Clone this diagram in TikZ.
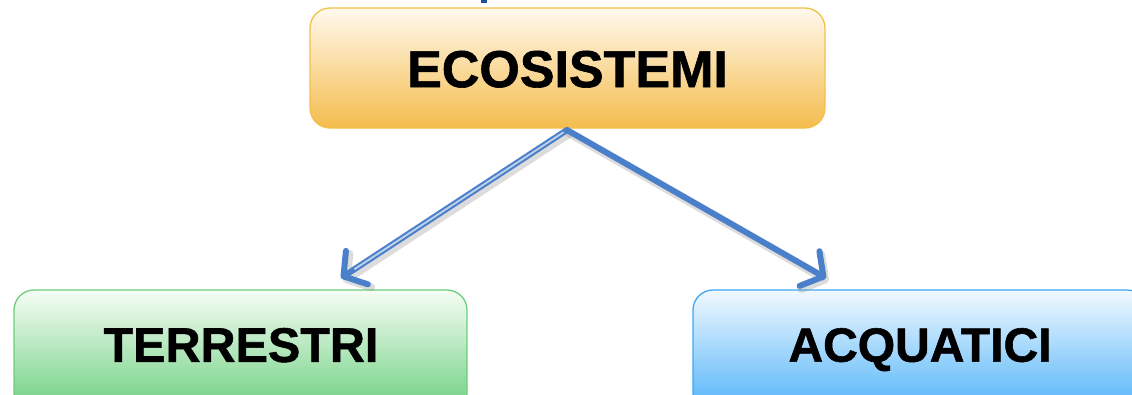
\documentclass[tikz,border=0pt]{standalone}
\usepackage{fontspec}
\setmainfont{Liberation Sans}
\newfontfamily\heavy{Liberation Sans}[BoldFeatures={FakeBold=1.2}]
\usetikzlibrary{arrows.meta,shadings}
\definecolor{orTop}{HTML}{FFF9EE}
\definecolor{orBot}{HTML}{F4BC4C}
\definecolor{orLine}{HTML}{F5C04A}
\definecolor{grTop}{HTML}{F6FDF5}
\definecolor{grBot}{HTML}{6BCF7E}
\definecolor{grLine}{HTML}{6ACF7B}
\definecolor{blTop}{HTML}{F2F9FF}
\definecolor{blBot}{HTML}{4DB2F9}
\definecolor{blLine}{HTML}{3EA8F5}
\definecolor{arrBlue}{HTML}{4A7FC9}
\definecolor{frag}{HTML}{1F4E9C}
\tikzset{
  box/.style={rounded corners=20pt, line width=1.3pt, minimum width=#1, inner sep=0pt},
  orbox/.style={box=515pt, minimum height=120pt, draw=orLine, top color=orTop, bottom color=orBot},
  grbox/.style={box=453pt, minimum height=124pt, draw=grLine, top color=grTop, bottom color=grBot},
  blbox/.style={box=454pt, minimum height=124pt, draw=blLine, top color=blTop, bottom color=blBot},
  lbl/.style={font=\heavy\bfseries\fontsize{#1}{#1}\selectfont, text=black, inner sep=0pt, text height=0.716*#1, text depth=0pt},
  conn/.style={draw=arrBlue, line width=6pt, line cap=round,
    -{Straight Barb[length=16pt, width=40pt, line width=6pt, round]}},
  connshadow/.style={draw=black!45, opacity=0.3, line width=8pt, line cap=round,
    -{Straight Barb[length=16pt, width=40pt, line width=8pt, round]}}
}
\begin{document}
\begin{tikzpicture}[x=1pt,y=-1pt]
\useasboundingbox (0,0) rectangle (1132,394);
\clip (0,0) rectangle (1132,394);
\fill[frag] (481,-1) rectangle (487,2.5);
\node[orbox] (ecos) at (567.5,68) {};
\node[lbl=52pt] (ecosT) at (567.5,68.5) {ECOSISTEMI};
\node[grbox] (terr) at (240.5,352) {};
\node[lbl=48.5pt] (terrT) at (241,344.5) {TERRESTRI};
\node[blbox] (acqu) at (920,352) {};
\node[lbl=48pt] (acquT) at (920,344.5) {ACQUATICI};
\coordinate (tipL) at (341,278);
\coordinate (tipR) at (826,278);
\coordinate (topS) at (567,130);
\draw[connshadow] ([shift={(2.5,3.5)}]topS) -- ([shift={(2.5,3.5)}]tipL);
\draw[connshadow] ([shift={(2.5,3.5)}]topS) -- ([shift={(2.5,3.5)}]tipR);
\draw[conn] (topS) -- (tipL);
\draw[conn] (topS) -- (tipR);
\draw[white!65!arrBlue, line width=1.8pt, shorten >=16pt, shorten <=4pt] (topS) -- (tipL);
\end{tikzpicture}
\end{document}
